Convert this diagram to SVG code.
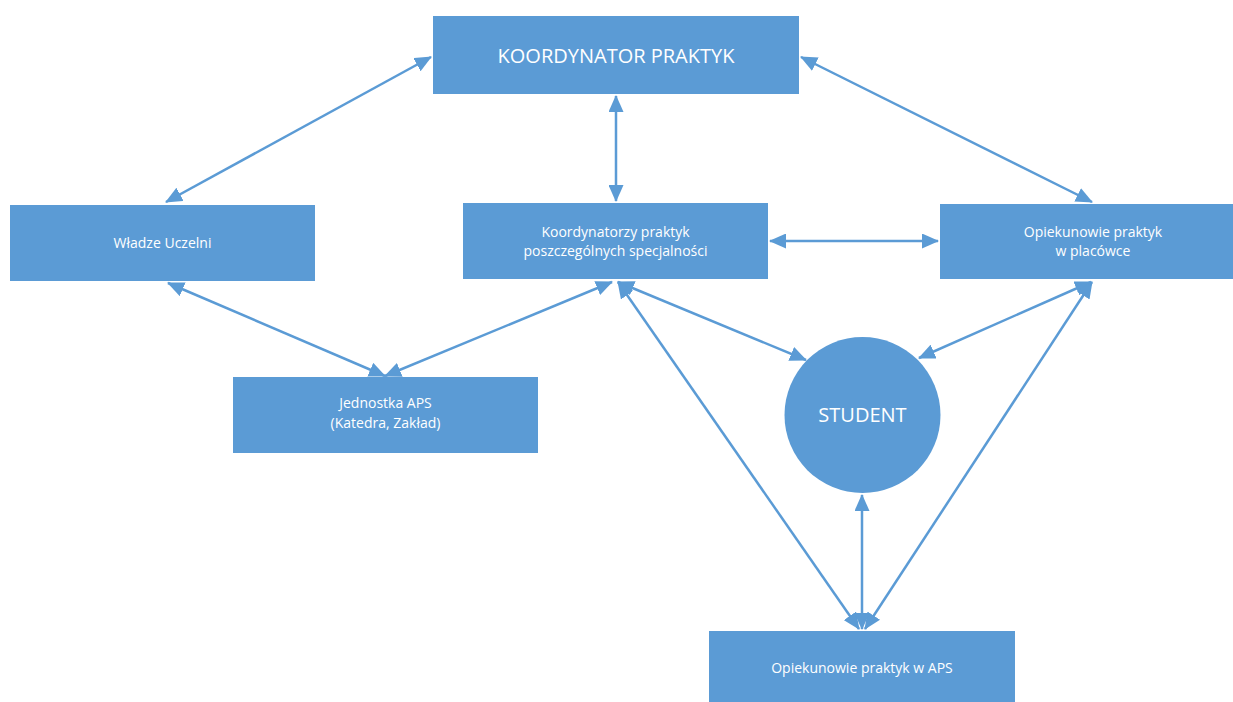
<svg xmlns="http://www.w3.org/2000/svg" width="1233" height="702" viewBox="0 0 1233 702">
<defs>
<style>
.box{fill:#5B9BD5;}
.t{fill:#ffffff;font-family:"Open Sans","Liberation Sans",sans-serif;font-size:14px;text-anchor:middle;}
.big{font-size:20px;}
.c{stroke:#5B9BD5;stroke-width:2.5;fill:none;marker-start:url(#ah);marker-end:url(#ah);}
</style>
<marker id="ah" markerUnits="userSpaceOnUse" markerWidth="17" markerHeight="15" refX="16" refY="7.5" orient="auto-start-reverse" viewBox="0 0 17 15">
<path d="M0,0 L17,7.5 L0,15 z" fill="#5B9BD5"/>
</marker>
</defs>
<rect width="1233" height="702" fill="#ffffff"/>
<g id="connectors">
<line class="c" x1="431" y1="57" x2="166" y2="202"/>
<line class="c" x1="801" y1="57" x2="1092" y2="202"/>
<line class="c" x1="616" y1="96" x2="616" y2="201"/>
<line class="c" x1="770" y1="241" x2="938" y2="241"/>
<line class="c" x1="168" y1="283" x2="385" y2="376"/>
<line class="c" x1="612" y1="282" x2="385" y2="376"/>
<line class="c" x1="618" y1="282" x2="806" y2="360"/>
<line class="c" x1="618" y1="282" x2="859" y2="629"/>
<line class="c" x1="1091" y1="282" x2="919" y2="358"/>
<line class="c" x1="1092" y1="282" x2="865" y2="629"/>
<line class="c" x1="862" y1="495" x2="862" y2="629"/>
</g>
<g id="koordynator">
<rect class="box" x="433" y="16" width="366" height="78"/>
<text class="t big" x="616" y="63">KOORDYNATOR PRAKTYK</text>
</g>
<g id="wladze">
<rect class="box" x="10" y="205" width="305" height="76"/>
<text class="t" x="162.5" y="248">Władze Uczelni</text>
</g>
<g id="koordynatorzy">
<rect class="box" x="463" y="203" width="305" height="76"/>
<text class="t" x="615.5" y="237">Koordynatorzy praktyk</text>
<text class="t" x="615.5" y="256">poszczególnych specjalności</text>
</g>
<g id="opiekunowie-placowka">
<rect class="box" x="940" y="204" width="293" height="75"/>
<text class="t" x="1093" y="237">Opiekunowie praktyk</text>
<text class="t" x="1093" y="256">w placówce</text>
</g>
<g id="jednostka">
<rect class="box" x="233" y="377" width="305" height="76"/>
<text class="t" x="385.5" y="408">Jednostka APS</text>
<text class="t" x="385.5" y="428">(Katedra, Zakład)</text>
</g>
<g id="student">
<circle class="box" cx="862.5" cy="415" r="78"/>
<text class="t big" x="862.5" y="422">STUDENT</text>
</g>
<g id="opiekunowie-aps">
<rect class="box" x="709" y="631" width="306" height="76"/>
<text class="t" x="862" y="673">Opiekunowie praktyk w APS</text>
</g>
</svg>
